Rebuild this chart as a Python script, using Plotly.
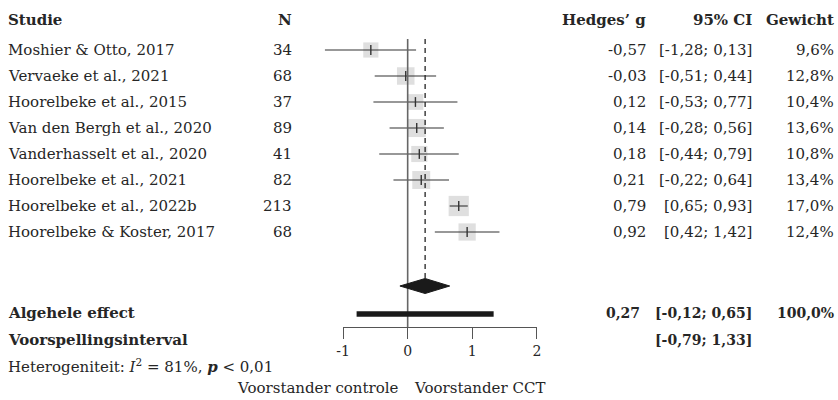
import plotly.graph_objects as go

# ---------------- data ----------------
studies = ["Moshier &amp; Otto, 2017", "Vervaeke et al., 2021", "Hoorelbeke et al., 2015",
           "Van den Bergh et al., 2020", "Vanderhasselt et al., 2020", "Hoorelbeke et al., 2021",
           "Hoorelbeke et al., 2022b", "Hoorelbeke &amp; Koster, 2017"]
n_values = [34, 68, 37, 89, 41, 82, 213, 68]
g_values = [-0.57, -0.03, 0.12, 0.14, 0.18, 0.21, 0.79, 0.92]
ci_low = [-1.28, -0.51, -0.53, -0.28, -0.44, -0.22, 0.65, 0.42]
ci_high = [0.13, 0.44, 0.77, 0.56, 0.79, 0.64, 0.93, 1.42]
weights = [9.6, 12.8, 10.4, 13.6, 10.8, 13.4, 17.0, 12.4]
overall = [0.27, -0.12, 0.65]          # estimate, lower, upper
overall_weight = 100.0
pred_interval = [-0.79, 1.33]
tick_values = [-1, 0, 1, 2]
tick_labels = ["-1", "0", "1", "2"]
headers = ["Studie", "N", "Hedges’ g", "95% CI", "Gewicht"]
rows = list(range(1, len(studies) + 1))

# ---------------- layout constants ----------------
W, H = 838, 400
X0, UNIT = 406.0, 65.5          # pixel of 0 and pixels per unit
ROW0, ROWH = 50.0, 26.0          # pixel of row 1 and row height


def px2x(p):
    return (p - X0) / UNIT


def py2r(p):
    return (p - ROW0) / ROWH + 1


FONT = "DejaVu Serif"
FS = 15
TXT = "#262626"


def fmt(v, d=2):
    return f"{v:.{d}f}".replace(".", ",")


fig = go.Figure()

# squares
fig.add_trace(go.Scatter(
    x=g_values, y=rows, mode="markers",
    marker=dict(symbol="square", color="#d2d2d2",
                size=[4.9 * w ** 0.5 for w in weights], line=dict(width=0)),
    hoverinfo="skip", showlegend=False))

# CI lines
cx, cy = [], []
for lo, hi, r in zip(ci_low, ci_high, rows):
    cx += [lo, hi, None]
    cy += [r, r, None]
fig.add_trace(go.Scatter(x=cx, y=cy, mode="lines", line=dict(color="#333333", width=1.1),
                         hoverinfo="skip", showlegend=False))

# point-estimate ticks
fig.add_trace(go.Scatter(
    x=g_values, y=rows, mode="markers",
    marker=dict(symbol="line-ns", size=7, line=dict(color="#333333", width=1.4)),
    hoverinfo="skip", showlegend=False))

# reference lines
r_top = py2r(39)
r_axis = py2r(327)
r_diam = py2r(286)
diam_h = 7.5 / ROWH
fig.add_trace(go.Scatter(x=[0, 0], y=[r_top, r_axis], mode="lines",
                         line=dict(color="#666666", width=1.6),
                         hoverinfo="skip", showlegend=False))
fig.add_trace(go.Scatter(x=[overall[0], overall[0]], y=[r_top, r_diam - diam_h], mode="lines",
                         line=dict(color="#222222", width=1.3, dash="5px,4px"),
                         hoverinfo="skip", showlegend=False))

# diamond
fig.add_trace(go.Scatter(
    x=[overall[1], overall[0], overall[2], overall[0], overall[1]],
    y=[r_diam, r_diam - diam_h, r_diam, r_diam + diam_h, r_diam],
    mode="lines", fill="toself", fillcolor="#1a1a1a", line=dict(color="#1a1a1a", width=1),
    hoverinfo="skip", showlegend=False))

# prediction interval bar
r_pi = py2r(314)
fig.add_trace(go.Scatter(x=pred_interval, y=[r_pi, r_pi], mode="lines",
                         line=dict(color="#1a1a1a", width=5.5),
                         hoverinfo="skip", showlegend=False))

# dummy trace for the visible axis
fig.add_trace(go.Scatter(x=[tick_values[0], tick_values[-1]], y=[0, 0], xaxis="x2", yaxis="y2",
                         mode="markers", marker=dict(opacity=0), hoverinfo="skip",
                         showlegend=False))

ann = []


def text(px, r, s, anchor, bold=False, size=FS):
    if bold:
        s = f"<b>{s}</b>"
    ann.append(dict(x=px / W, xref="paper", y=r, yref="y", text=s, showarrow=False,
                    xanchor=anchor, yanchor="middle", borderpad=0, borderwidth=0,
                    font=dict(family=FONT, size=size, color=TXT)))


COL_NAME, COL_N, COL_G, COL_CI, COL_W = 1, 289, 647, 755, 838
r_head = py2r(19.5)
for h, px, a in zip(headers, [COL_NAME, COL_N, COL_G, COL_CI, COL_W],
                    ["left", "right", "right", "right", "right"]):
    text(px, r_head, h, a, bold=True)

for s, n, g, lo, hi, w, r in zip(studies, n_values, g_values, ci_low, ci_high, weights, rows):
    text(COL_NAME, r, s, "left")
    text(COL_N, r, str(n), "right")
    text(COL_G, r, fmt(g), "right")
    text(COL_CI, r, f"[{fmt(lo)}; {fmt(hi)}]", "right")
    text(COL_W, r, f"{fmt(w, 1)}%", "right")

r_over = py2r(313)
r_pred = py2r(339.5)
r_het = py2r(366)
text(COL_NAME, r_over, "Algehele effect", "left", bold=True)
text(COL_G - 6, r_over, fmt(overall[0]), "right", bold=True, size=14)
text(COL_CI, r_over, f"[{fmt(overall[1])}; {fmt(overall[2])}]", "right", bold=True, size=14)
text(COL_W, r_over, f"{fmt(overall_weight, 1)}%", "right", bold=True, size=14)
text(COL_NAME, r_pred, "Voorspellingsinterval", "left", bold=True)
text(COL_CI, r_pred, f"[{fmt(pred_interval[0])}; {fmt(pred_interval[1])}]", "right", bold=True, size=14)
text(COL_NAME, r_het, "Heterogeniteit: <i>I</i><sup>2</sup> = 81%, <b><i>p</i></b> &lt; 0,01", "left")

r_lab = py2r(388)
text(X0 - 9, r_lab, "Voorstander controle", "right")
text(X0 + 6, r_lab, "Voorstander CCT", "left")

fig.update_layout(
    width=W, height=H, margin=dict(l=0, r=0, t=0, b=0),
    paper_bgcolor="white", plot_bgcolor="rgba(0,0,0,0)",
    xaxis=dict(range=[px2x(0), px2x(W)], visible=False, domain=[0, 1], fixedrange=True),
    yaxis=dict(range=[py2r(H), py2r(0)], visible=False, domain=[0, 1], fixedrange=True),
    xaxis2=dict(domain=[(X0 + tick_values[0] * UNIT) / W, (X0 + tick_values[-1] * UNIT) / W],
                range=[tick_values[0], tick_values[-1]], anchor="y2",
                showline=True, linecolor="#555555", linewidth=1, ticks="outside", ticklen=11,
                tickcolor="#555555", tickwidth=1, tickvals=tick_values, ticktext=tick_labels,
                tickfont=dict(family=FONT, size=14, color=TXT), showgrid=False, zeroline=False,
                fixedrange=True),
    yaxis2=dict(domain=[1 - 327 / H, 1 - 327 / H + 0.01], visible=False, anchor="x2",
                fixedrange=True),
    annotations=ann,
    showlegend=False,
)

fig.write_html("out.html")
